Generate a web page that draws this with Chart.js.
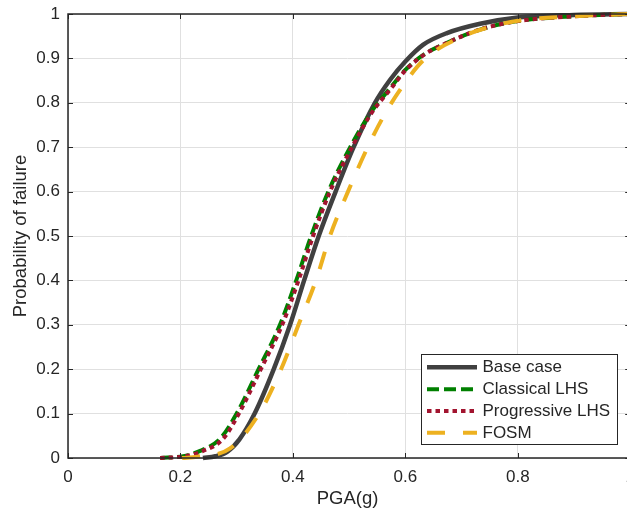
<!DOCTYPE html>
<html><head><meta charset="utf-8">
<script src="https://cdn.jsdelivr.net/npm/chart.js@4.4.1/dist/chart.umd.min.js"></script>
<style>html,body{margin:0;padding:0;overflow:hidden;background:#fff;width:627px;height:516px}canvas{display:block}</style>
</head><body>
<canvas id="c" width="627" height="516"></canvas>
<script>
const seriesNames = ['Base case', 'Classical LHS', 'Progressive LHS', 'FOSM'];

const pgaBase = [0.240, 0.262, 0.283, 0.305, 0.332, 0.366, 0.395, 0.420, 0.446, 0.476, 0.508, 0.546, 0.573, 0.600, 0.632, 0.674, 0.733, 0.80, 0.90, 1.0];
const pfBase  = [0, 0.004, 0.014, 0.042, 0.1, 0.2, 0.3, 0.4, 0.5, 0.6, 0.7, 0.8, 0.852, 0.893, 0.931, 0.957, 0.978, 0.992, 0.998, 1.0];

const pgaClassical = [0.164, 0.205, 0.235, 0.271, 0.300, 0.339, 0.377, 0.406, 0.4325, 0.463, 0.502, 0.538, 0.573, 0.600, 0.632, 0.674, 0.733, 0.80, 0.90, 1.0];
const pfClassical  = [0, 0.004, 0.016, 0.044, 0.1, 0.2, 0.3, 0.4, 0.5, 0.6, 0.7, 0.777, 0.833, 0.874, 0.908, 0.935, 0.965, 0.984, 0.995, 1.0];

const pgaProgressive = [0.164, 0.207, 0.238, 0.275, 0.304, 0.343, 0.381, 0.410, 0.436, 0.466, 0.505, 0.540, 0.575, 0.601, 0.633, 0.674, 0.733, 0.80, 0.90, 1.0];
const pfProgressive  = [0, 0.004, 0.015, 0.042, 0.1, 0.2, 0.3, 0.4, 0.5, 0.6, 0.7, 0.777, 0.833, 0.874, 0.908, 0.935, 0.965, 0.984, 0.995, 1.0];

const pgaFOSM = [0.203, 0.230, 0.289, 0.340, 0.379, 0.410, 0.441, 0.466, 0.498, 0.533, 0.561, 0.590, 0.633, 0.705, 0.763, 0.80, 0.90, 1.0];
const pfFOSM  = [0, 0.003, 0.022, 0.1, 0.2, 0.3, 0.4, 0.5, 0.6, 0.7, 0.769, 0.828, 0.897, 0.951, 0.975, 0.985, 0.995, 1.0];

const xTickLabels = ['0', '0.2', '0.4', '0.6', '0.8', '1'];
const yTickLabels = ['0', '0.1', '0.2', '0.3', '0.4', '0.5', '0.6', '0.7', '0.8', '0.9', '1'];
const xTitle = 'PGA(g)';
const yTitle = 'Probability of failure';
const xVisibleMax = 0.9943;

const FONT = '"Liberation Sans", Arial, Helvetica, sans-serif';
const TXT = '#262626';

function pts(xs, ys) { return xs.map((x, i) => ({ x: x, y: ys[i] })); }

const styles = [
  { color: '#404040', width: 4.5, dash: [] },
  { color: '#008000', width: 4, dash: [12, 5] },
  { color: '#a2142f', width: 4, dash: [4.5, 4] },
  { color: '#edb120', width: 4, dash: [18, 18] }
];
const seriesData = [
  pts(pgaBase, pfBase),
  pts(pgaClassical, pfClassical),
  pts(pgaProgressive, pfProgressive),
  pts(pgaFOSM, pfFOSM)
];
const drawOrder = [4, 3, 2, 1];

const datasets = seriesNames.map((name, i) => ({
  label: name,
  data: seriesData[i],
  borderColor: styles[i].color,
  backgroundColor: styles[i].color,
  borderWidth: styles[i].width,
  borderDash: styles[i].dash,
  pointRadius: 0,
  showLine: true,
  fill: false,
  cubicInterpolationMode: 'monotone',
  clip: false,
  order: drawOrder[i]
}));

const framePlugin = {
  id: 'frame',
  afterDatasetsDraw(chart) {
    const { ctx, chartArea: { left, right, top, bottom }, scales: { x, y } } = chart;
    const rEdge = x.getPixelForValue(1);
    ctx.save();
    ctx.strokeStyle = TXT;
    ctx.lineWidth = 1;
    ctx.setLineDash([]);
    ctx.beginPath();
    x.ticks.forEach(t => {
      const px = Math.round(x.getPixelForValue(t.value)) + 0.5;
      ctx.moveTo(px, bottom); ctx.lineTo(px, bottom - 5);
      ctx.moveTo(px, top); ctx.lineTo(px, top + 5);
    });
    y.ticks.forEach(t => {
      const py = Math.round(y.getPixelForValue(t.value)) + 0.5;
      ctx.moveTo(left, py); ctx.lineTo(left + 5, py);
      ctx.moveTo(rEdge, py); ctx.lineTo(rEdge - 5, py);
    });
    ctx.stroke();
    ctx.lineWidth = 1.5;
    ctx.beginPath();
    ctx.moveTo(rEdge, top); ctx.lineTo(left, top); ctx.lineTo(left, bottom); ctx.lineTo(rEdge, bottom);
    ctx.stroke();
    ctx.restore();
  },
  afterDraw(chart) {
    const ctx = chart.ctx;
    const bx = 421, by = 354, bw = 196, bh = 90;
    ctx.save();
    ctx.fillStyle = '#fff';
    ctx.fillRect(bx, by, bw, bh);
    ctx.strokeStyle = TXT;
    ctx.lineWidth = 1;
    ctx.strokeRect(bx + 0.5, by + 0.5, bw, bh);
    const rows = [367.3, 389.3, 411, 432.7];
    chart.data.datasets.forEach((ds, i) => {
      const yy = rows[i];
      ctx.beginPath();
      ctx.strokeStyle = ds.borderColor;
      ctx.lineWidth = ds.borderWidth;
      ctx.setLineDash(ds.borderDash);
      ctx.moveTo(427, yy); ctx.lineTo(477, yy);
      ctx.stroke();
      ctx.setLineDash([]);
      ctx.fillStyle = TXT;
      ctx.font = '17px ' + FONT;
      ctx.textBaseline = 'middle';
      ctx.textAlign = 'left';
      ctx.fillText(ds.label, 482.5, yy + 0.5);
    });
    ctx.restore();
  }
};

new Chart(document.getElementById('c'), {
  type: 'scatter',
  data: { datasets: datasets },
  options: {
    responsive: false,
    animation: false,
    devicePixelRatio: 1,
    layout: { padding: { left: 0, top: 14, right: 0, bottom: 0 } },
    plugins: { legend: { display: false }, tooltip: { enabled: false } },
    scales: {
      x: {
        type: 'linear', min: 0, max: xVisibleMax,
        afterFit: s => { s.height = 58; s.paddingLeft = 0; s.paddingRight = 0; },
        afterBuildTicks: s => { s.ticks = xTickLabels.map(l => ({ value: parseFloat(l) })); },
        grid: { color: '#e0e0e0', lineWidth: 1, drawTicks: false },
        border: { display: false },
        ticks: {
          padding: 9, color: TXT, font: { family: FONT, size: 17 }, maxRotation: 0, autoSkip: false,
          callback: (v, i) => xTickLabels[i]
        },
        title: { display: true, text: xTitle, color: TXT, font: { family: FONT, size: 18.5 }, padding: { top: 0, bottom: 6 } }
      },
      y: {
        type: 'linear', min: 0, max: 1,
        afterFit: s => { s.width = 68; s.paddingTop = 0; s.paddingBottom = 0; },
        afterBuildTicks: s => { s.ticks = yTickLabels.map(l => ({ value: parseFloat(l) })); },
        grid: { color: '#e0e0e0', lineWidth: 1, drawTicks: false },
        border: { display: false },
        ticks: {
          padding: 8, color: TXT, font: { family: FONT, size: 17 }, autoSkip: false,
          callback: (v, i) => yTickLabels[i]
        },
        title: { display: true, text: yTitle, color: TXT, font: { family: FONT, size: 18.5 }, padding: { top: 10, bottom: 0 } }
      }
    }
  },
  plugins: [framePlugin]
});
</script>
</body></html>
